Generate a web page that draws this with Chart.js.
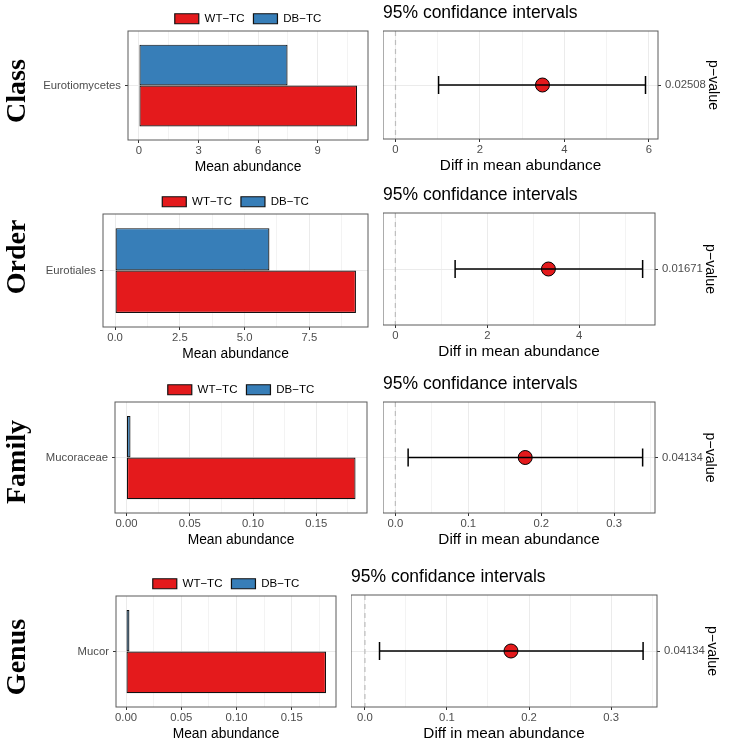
<!DOCTYPE html>
<html><head><meta charset="utf-8">
<script src="https://cdn.jsdelivr.net/npm/chart.js@4.4.1/dist/chart.umd.min.js"></script>
<style>
html,body{margin:0;padding:0;background:#fff;}
#stage{position:relative;width:730px;height:750px;overflow:hidden;background:#fff;}
#stage canvas{position:absolute;}
.rowlab{position:absolute;font-family:"Liberation Serif","Times New Roman",serif;font-weight:bold;font-size:28px;line-height:1;white-space:nowrap;color:#000;transform:translate(-50%,-50%) rotate(-90deg);}
</style></head>
<body><div id="stage"></div>
<script>
// ---------- data ----------
const taxLevels = ['Class', 'Order', 'Family', 'Genus'];
const taxa = ['Eurotiomycetes', 'Eurotiales', 'Mucoraceae', 'Mucor'];
const groups = ['WT−TC', 'DB−TC'];
const wtMean = [10.98, 9.30, 0.181, 0.181];
const dbMean = [7.48, 5.96, 0.0032, 0.0031];
const diffMean = [3.48, 3.33, 0.178, 0.178];
const ciLow = [1.02, 1.30, 0.0175, 0.0178];
const ciHigh = [5.92, 5.38, 0.339, 0.339];
const pValues = ['0.02508', '0.01671', '0.04134', '0.04134'];
const barTickLabels = [['0','3','6','9'], ['0.0','2.5','5.0','7.5'], ['0.00','0.05','0.10','0.15'], ['0.00','0.05','0.10','0.15']];
const ciTickLabels = [['0','2','4','6'], ['0','2','4'], ['0.0','0.1','0.2','0.3'], ['0.0','0.1','0.2','0.3']];
const barAxisTitle = 'Mean abundance';
const ciAxisTitle = 'Diff in mean abundance';
const ciTitle = '95% confidance intervals';
const pAxisTitle = 'p−value';

// ---------- layout (panel plot boxes) ----------
const barBoxes = [{L:128,R:368,T:31,B:140},{L:103,R:368,T:214,B:327},{L:115,R:367,T:402,B:513},{L:116,R:336,T:596,B:707}];
const ciBoxes  = [{L:383,R:658,T:31,B:139},{L:383,R:655,T:213,B:325},{L:383,R:655,T:402,B:513},{L:351,R:657,T:595,B:707}];
const rowLabelPos = [{x:16,y:91},{x:16,y:257},{x:16,y:462},{x:16,y:657}];
const Y_AXIS_W = 100, LEGEND_H = 27, X_AXIS_H = 35;
const CI_TITLE_H = 28, CI_X_AXIS_H = 36, CI_Y_AXIS_W = 63;
const RED = '#E41A1C', BLUE = '#377EB8';
const GRID_MAJOR = '#EBEBEB', GRID_MINOR = '#F3F3F3', TICK_COL = '#4D4D4D';

Chart.defaults.font.family = '"Liberation Sans", Arial, Helvetica, sans-serif';
Chart.defaults.color = '#000';

const stage = document.getElementById('stage');
function addCanvas(left, top, w, h) {
  const c = document.createElement('canvas');
  c.width = w; c.height = h;
  c.style.left = left + 'px'; c.style.top = top + 'px';
  c.style.width = w + 'px'; c.style.height = h + 'px';
  stage.appendChild(c);
  return c;
}
function makeTicks(labels, min, max) {
  const vals = labels.map(Number);
  const step = vals[1] - vals[0];
  const ticks = vals.map((v, k) => ({value: v, lab: labels[k], minor: false}));
  for (let k = 0; ; k++) {
    const v = vals[0] - step / 2 + k * step;
    if (v > max + 1e-12) break;
    if (v >= min - 1e-12) ticks.push({value: +v.toFixed(8), lab: '', minor: true});
  }
  ticks.sort((a, b) => a.value - b.value);
  return ticks;
}
function noPad(s) { s.paddingLeft = 0; s.paddingRight = 0; s.paddingTop = 0; s.paddingBottom = 0; }
const framePlugin = {
  id: 'frame',
  afterDatasetsDraw(chart) {
    const {ctx, chartArea: a} = chart;
    ctx.save();
    ctx.strokeStyle = '#5a5a5a'; ctx.lineWidth = 1;
    ctx.strokeRect(a.left, a.top, a.right - a.left, a.bottom - a.top);
    ctx.restore();
  }
};
const zeroLinePlugin = {
  id: 'zeroLine',
  beforeDatasetsDraw(chart) {
    const {ctx, chartArea: a} = chart;
    const x = chart.scales.x.getPixelForValue(0);
    ctx.save();
    ctx.strokeStyle = '#BDBDBD'; ctx.lineWidth = 1.2; ctx.setLineDash([5, 4]);
    ctx.beginPath(); ctx.moveTo(x, a.top); ctx.lineTo(x, a.bottom); ctx.stroke();
    ctx.restore();
  }
};
function xScaleOpts(tickList, min, max, title, titleSize, fitH) {
  return {
    type: 'linear', min: min, max: max, bounds: 'data',
    afterBuildTicks: s => { s.ticks = tickList.map(t => Object.assign({}, t)); },
    afterFit: s => { s.height = fitH; noPad(s); },
    ticks: {
      autoSkip: false, maxRotation: 0, minRotation: 0, padding: 1.2,
      color: TICK_COL, font: {size: 11.3},
      callback: (v, idx, ts) => ts[idx].minor ? '' : ts[idx].lab
    },
    grid: {
      drawTicks: true, tickLength: 3, tickWidth: 1,
      color: c => (c.tick && c.tick.minor) ? GRID_MINOR : GRID_MAJOR,
      lineWidth: 1,
      tickColor: c => (c.tick && c.tick.minor) ? 'rgba(0,0,0,0)' : '#333333'
    },
    border: {display: false},
    title: {display: true, text: title, color: '#000', font: {size: titleSize}, padding: {top: 0, bottom: 0}}
  };
}

// ---------- bar panels ----------
function barChart(i) {
  const b = barBoxes[i];
  const xmin = -0.05 * wtMean[i], xmax = 1.05 * wtMean[i];
  const tickList = makeTicks(barTickLabels[i], xmin, xmax);
  const c = addCanvas(b.L - Y_AXIS_W, b.T - LEGEND_H, Y_AXIS_W + (b.R - b.L) + 1, LEGEND_H + (b.B - b.T) + X_AXIS_H + 1);
  new Chart(c, {
    type: 'bar',
    data: {
      labels: [taxa[i]],
      datasets: [
        {label: groups[1], data: [dbMean[i]], backgroundColor: BLUE, borderColor: '#111', borderWidth: 1.2, borderSkipped: false, categoryPercentage: 0.75, barPercentage: 1},
        {label: groups[0], data: [wtMean[i]], backgroundColor: RED, borderColor: '#111', borderWidth: 1.2, borderSkipped: false, categoryPercentage: 0.75, barPercentage: 1}
      ]
    },
    options: {
      indexAxis: 'y', responsive: false, maintainAspectRatio: false, animation: false, events: [],
      layout: {padding: {left: 0, top: 0, right: 1, bottom: 1}, autoPadding: false},
      plugins: {
        tooltip: {enabled: false},
        title: {display: false},
        legend: {
          display: true, position: 'top', align: 'center', fullSize: false, reverse: true, maxHeight: LEGEND_H,
          labels: {boxWidth: 24, boxHeight: 10, padding: 9, color: '#000', font: {size: 11.5}}
        }
      },
      scales: {
        x: xScaleOpts(tickList, xmin, xmax, barAxisTitle, 13.8, X_AXIS_H),
        y: {
          type: 'category', offset: true,
          afterFit: s => { s.width = Y_AXIS_W; noPad(s); },
          ticks: {padding: 4, color: TICK_COL, font: {size: 11.3}},
          grid: {offset: false, color: GRID_MAJOR, lineWidth: 1, drawTicks: true, tickLength: 3, tickColor: '#333333'},
          border: {display: false}
        }
      }
    },
    plugins: [framePlugin]
  });
}

// ---------- confidence interval panels ----------
function ciChart(i) {
  const b = ciBoxes[i];
  const xmin = -0.05 * ciHigh[i], xmax = 1.05 * ciHigh[i];
  const tickList = makeTicks(ciTickLabels[i], xmin, xmax);
  const c = addCanvas(b.L, b.T - CI_TITLE_H, (b.R - b.L) + CI_Y_AXIS_W, CI_TITLE_H + (b.B - b.T) + CI_X_AXIS_H);
  new Chart(c, {
    type: 'line',
    data: {
      datasets: [
        {label: 'ci', data: [{x: ciLow[i], y: pValues[i]}, {x: ciHigh[i], y: pValues[i]}], order: 0,
         showLine: true, fill: false, borderColor: '#000', borderWidth: 1.5,
         pointStyle: 'line', pointRotation: 90, pointRadius: 9, pointBorderColor: '#000', pointBorderWidth: 1.5},
        {label: 'mean', data: [{x: diffMean[i], y: pValues[i]}], showLine: false, order: 1,
         pointRadius: 7, pointBackgroundColor: RED, pointBorderColor: '#000', pointBorderWidth: 1}
      ]
    },
    options: {
      responsive: false, maintainAspectRatio: false, animation: false, events: [],
      layout: {padding: 0, autoPadding: false},
      plugins: {
        tooltip: {enabled: false},
        legend: {display: false},
        title: {display: true, text: ciTitle, align: 'start', fullSize: false, color: '#000',
                font: {size: 17.5, weight: 'normal'}, padding: {top: 0, bottom: 7}}
      },
      scales: {
        x: xScaleOpts(tickList, xmin, xmax, ciAxisTitle, 15.3, CI_X_AXIS_H),
        y: {
          type: 'category', labels: [pValues[i]], position: 'right', offset: true,
          afterFit: s => { s.width = CI_Y_AXIS_W; noPad(s); },
          ticks: {padding: 4, color: TICK_COL, font: {size: 11.3}},
          grid: {offset: false, color: GRID_MAJOR, lineWidth: 1, drawTicks: true, tickLength: 3, tickColor: '#333333'},
          border: {display: false},
          title: {display: true, text: pAxisTitle, color: '#000', font: {size: 14.2}, padding: 0}
        }
      }
    },
    plugins: [zeroLinePlugin, framePlugin]
  });
}

for (let i = 0; i < taxLevels.length; i++) { barChart(i); ciChart(i); }
taxLevels.forEach((t, i) => {
  const d = document.createElement('div');
  d.className = 'rowlab';
  d.textContent = t;
  d.style.left = rowLabelPos[i].x + 'px';
  d.style.top = rowLabelPos[i].y + 'px';
  stage.appendChild(d);
});
</script>
</body></html>
